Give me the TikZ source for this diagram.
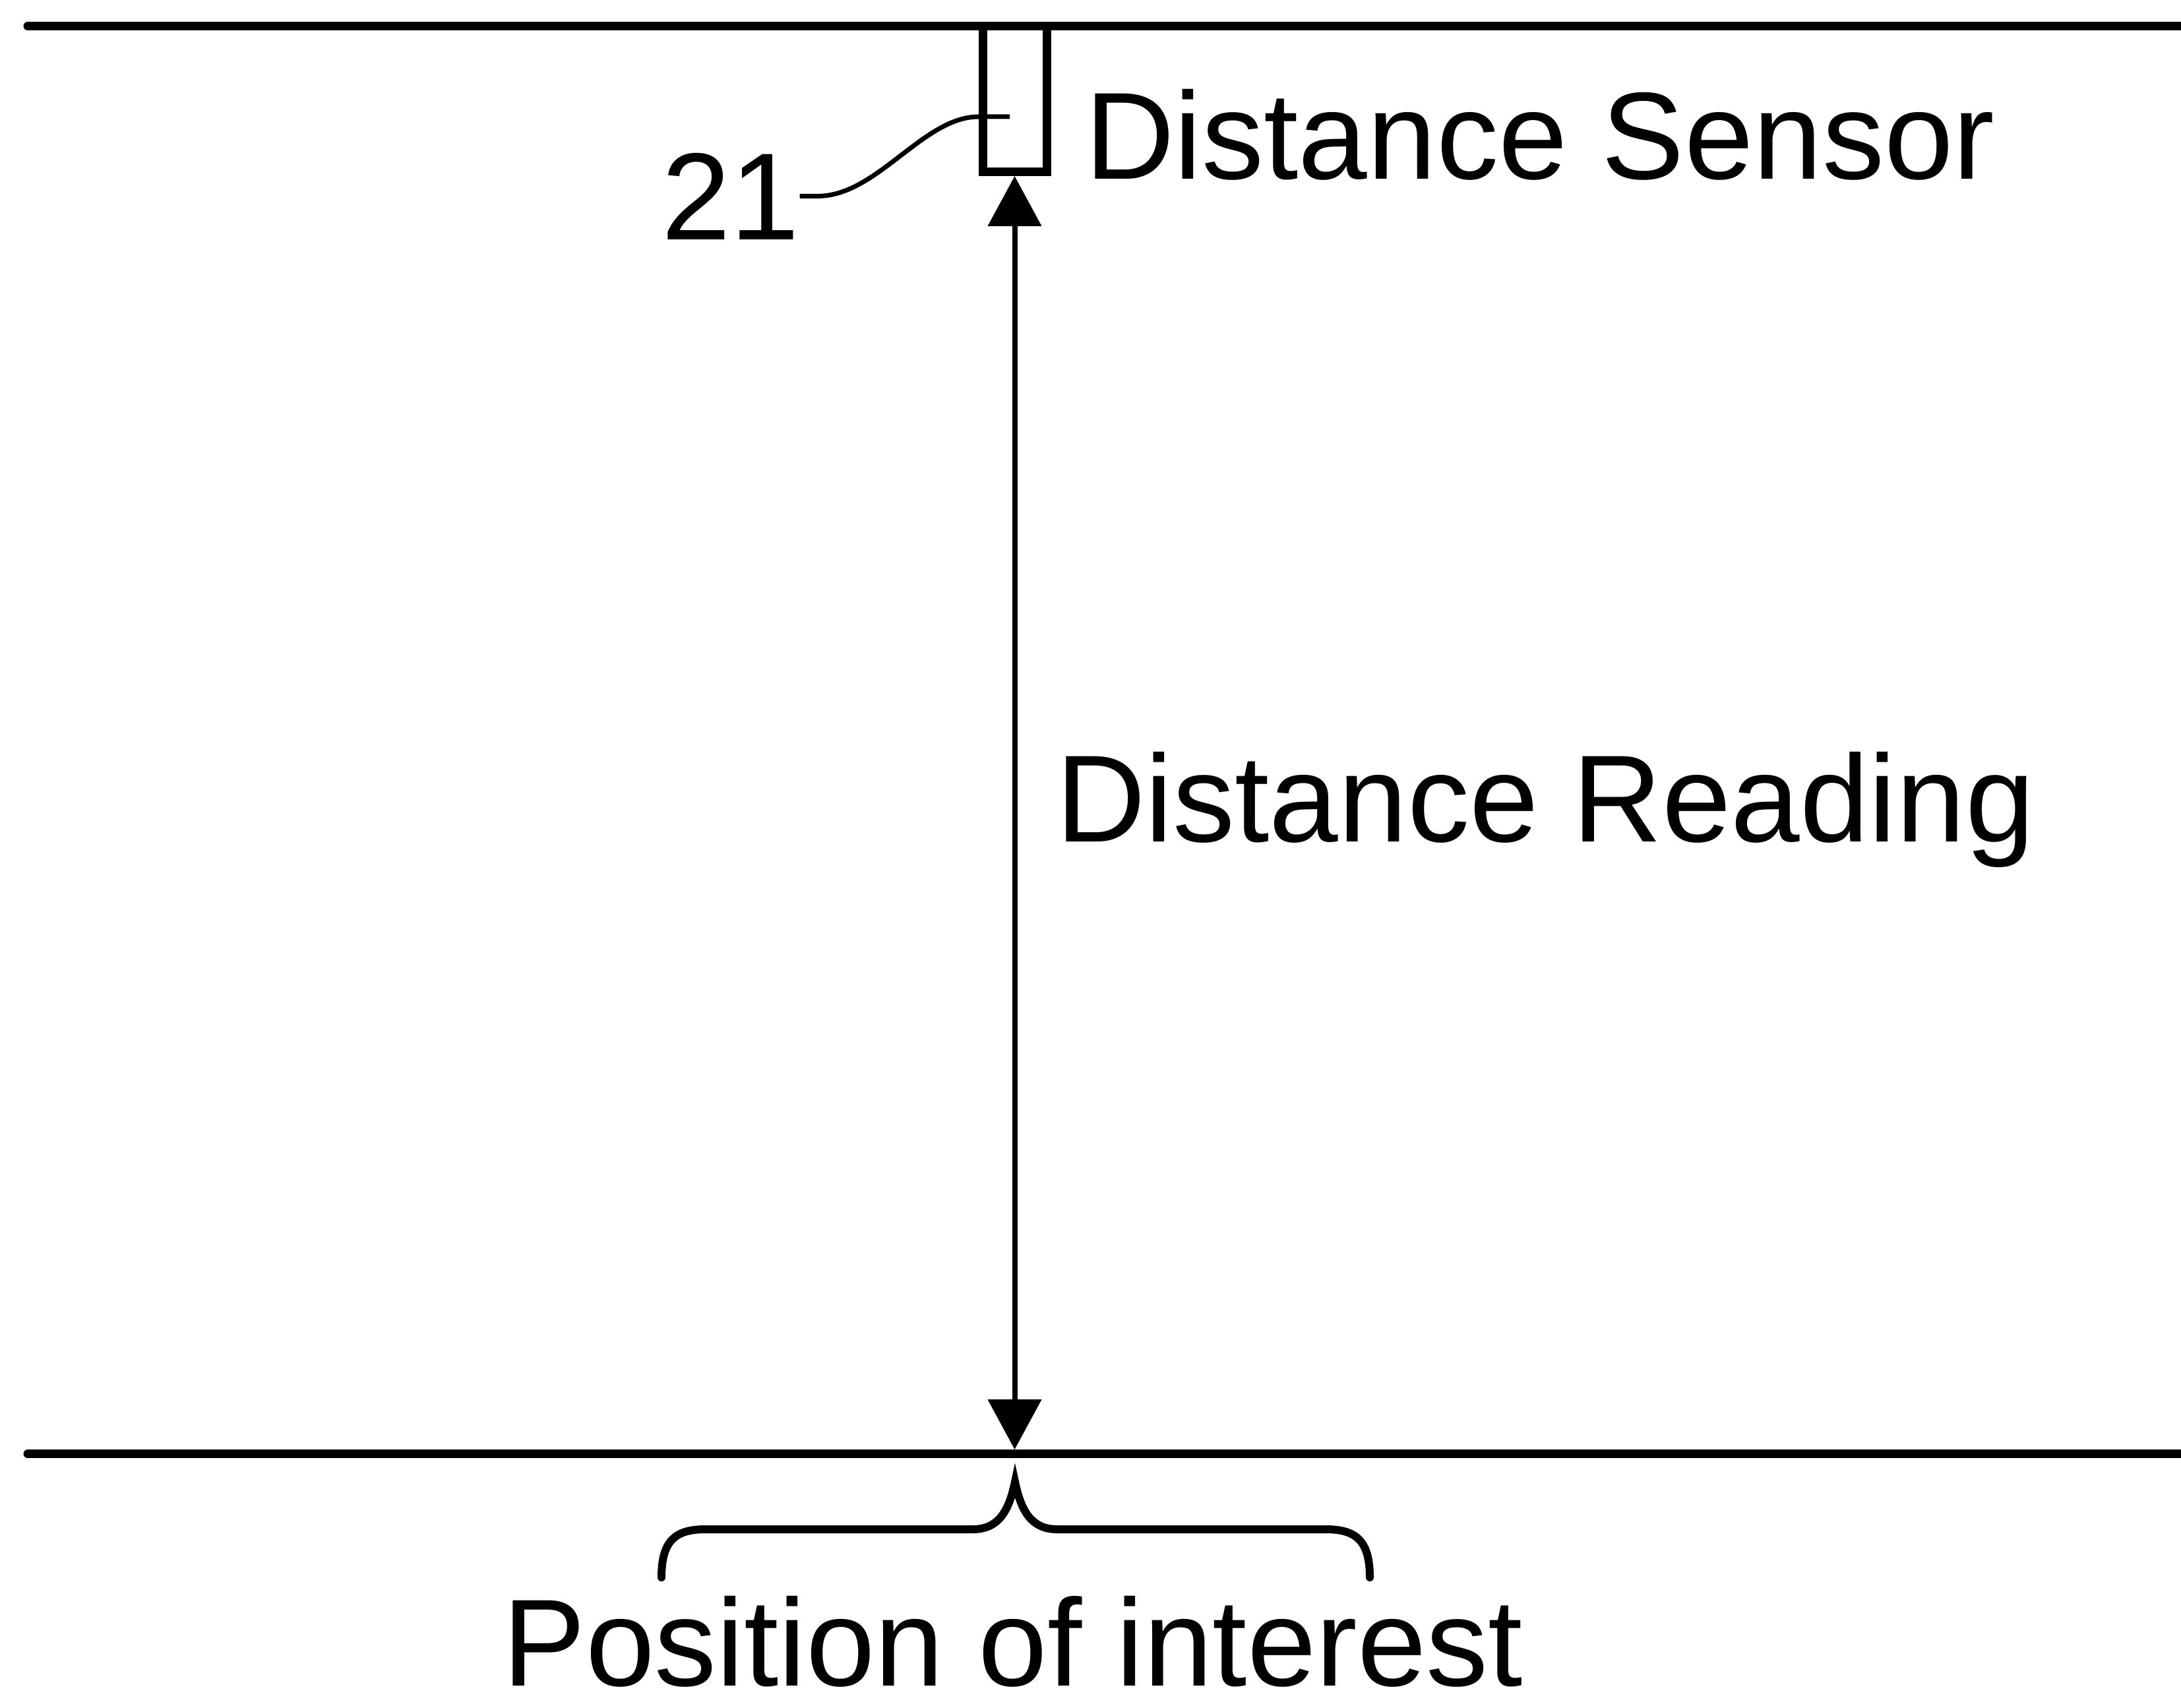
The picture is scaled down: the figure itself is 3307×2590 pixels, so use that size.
\documentclass[tikz,border=0pt]{standalone}
\usepackage{fontspec}
\setmainfont{Liberation Sans}
\usetikzlibrary{arrows.meta}
\begin{document}
\begin{tikzpicture}[x=1pt,y=-1pt,
  ground/.style={line width=13pt,line cap=round},
  lbl/.style={inner sep=0pt,font=\fontsize{188}{220}\selectfont},
  dimarrow/.style={line width=8pt,{Triangle[length=76pt,width=80pt]}-{Triangle[length=76pt,width=80pt]}},
  leader/.style={line width=7pt},
  bracestyle/.style={line width=12pt,line cap=round},
  sensorbox/.style={draw,line width=13pt,minimum width=97pt,minimum height=221pt,inner sep=0pt}]
\useasboundingbox (0,0) rectangle (3307,2590);
\fill[white] (0,0) rectangle (3307,2590);
% ceiling and floor
\coordinate (ceilL) at (42,39.5);
\coordinate (ceilR) at (3312,39.5);
\coordinate (floorL) at (42,2204.5);
\coordinate (floorR) at (3312,2204.5);
\draw[ground] (ceilL) -- (ceilR);
\draw[ground] (floorL) -- (floorR);
% sensor
\node[sensorbox] (sensor) at (1538.5,150) {};
\coordinate (tickend) at (1531,177);
% reference numeral
\node[lbl,anchor=base west] (n21) at (1003,363) {21};
\draw[leader] (n21.east) -- ++(28,0) .. controls (1330,297) and (1400,177) .. (tickend -| sensor.west) -- (tickend);
% distance arrow
\coordinate (poi) at (1538.5,2198);
\draw[dimarrow] (sensor.south) -- (poi);
% labels
\node[lbl,anchor=base west] (sensorlbl) at (1645,272) {Distance Sensor};
\node[lbl,anchor=base west] (readlbl) at (1601,1276) {Distance Reading};
% brace
\draw[bracestyle] (1003,2392) .. controls (1003,2335) and (1025,2319) .. (1070,2319) -- (1475,2319) .. controls (1515,2319) and (1530,2290) .. (1539,2247) .. controls (1548,2290) and (1563,2319) .. (1603,2319) -- (2010,2319) .. controls (2055,2319) and (2077,2335) .. (2077,2392);
\node[lbl,anchor=base] (poilbl) at (1536,2556) {Position of interest};
\end{tikzpicture}
\end{document}
